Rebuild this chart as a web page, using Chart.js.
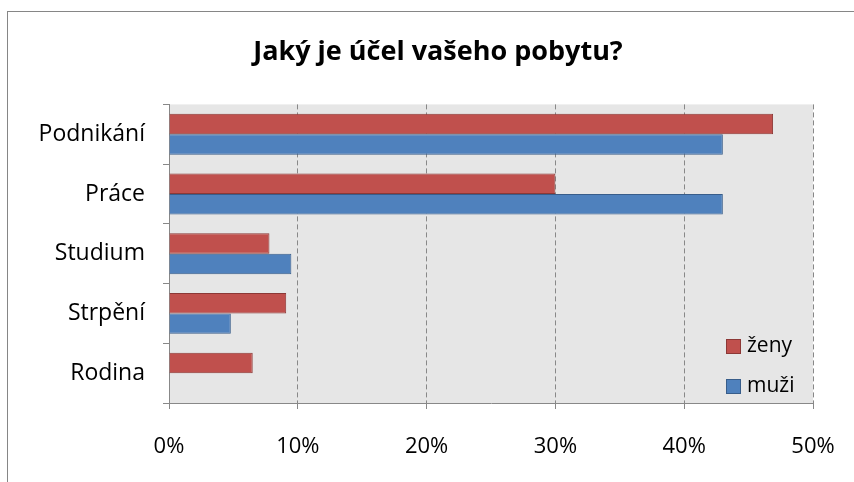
<!DOCTYPE html>
<html>
<head>
<meta charset="utf-8">
<script src="https://cdn.jsdelivr.net/npm/chart.js@4/dist/chart.umd.min.js"></script>
<style>
  html, body { margin: 0; padding: 0; background: #fff; overflow: hidden; }
  #frame { position: absolute; left: 7px; top: 11px; width: 860px; height: 480px; border: 1px solid #868686; }
  #wrap { position: absolute; left: 0; top: 0; width: 860px; height: 470px; }
</style>
</head>
<body>
<div id="frame"><div id="wrap"><canvas id="chart"></canvas></div></div>
<script>
const categories = ['Podnikání', 'Práce', 'Studium', 'Strpění', 'Rodina'];
const zeny = [46.9, 30.0, 7.8, 9.1, 6.5];
const muzi = [43.0, 43.0, 9.5, 4.8, 0];
const xTicks = [0, 10, 20, 30, 40, 50];

const FONT = '"Open Sans", Lato, sans-serif';

// šedé pozadí plochy grafu
const plotBg = {
    id: 'plotBg',
    beforeDraw(chart) {
        const a = chart.chartArea;
        const c = chart.ctx;
        c.save();
        c.fillStyle = '#e6e6e6';
        c.fillRect(a.left, a.top, a.right - a.left, a.bottom - a.top);
        c.restore();
    }
};

// legenda uvnitř plochy, vpravo dole
const insideLegend = {
    id: 'insideLegend',
    afterDraw(chart) {
        const c = chart.ctx;
        const items = chart.data.datasets;
        const x = 718, y0 = 334, step = 40;
        c.save();
        c.font = '21px ' + FONT;
        c.textBaseline = 'middle';
        items.forEach((ds, i) => {
            const y = y0 + i * step;
            c.fillStyle = ds.backgroundColor;
            c.fillRect(x, y - 7, 15, 15);
            c.strokeStyle = ds.borderColor;
            c.lineWidth = 1;
            c.strokeRect(x + 0.5, y - 6.5, 14, 14);
            c.fillStyle = '#000';
            c.fillText(ds.label, x + 21, y);
        });
        c.restore();
    }
};

new Chart(document.getElementById('chart'), {
    type: 'bar',
    data: {
        labels: categories,
        datasets: [
            { label: 'ženy', data: zeny, backgroundColor: '#c0504d', borderColor: '#8c3836', borderWidth: 1 },
            { label: 'muži', data: muzi, backgroundColor: '#4f81bd', borderColor: '#385d8a', borderWidth: 1 }
        ]
    },
    options: {
        indexAxis: 'y',
        responsive: true,
        maintainAspectRatio: false,
        animation: false,
        categoryPercentage: 0.685,
        barPercentage: 1,
        layout: { padding: 0 },
        plugins: {
            legend: { display: false },
            tooltip: { enabled: false },
            title: {
                display: true,
                text: 'Jaký je účel vašeho pobytu?',
                color: '#000',
                font: { family: FONT, size: 27, weight: 'bold' },
                padding: { top: 24, bottom: 36 }
            }
        },
        scales: {
            x: {
                min: 0,
                max: 50,
                afterBuildTicks: s => { s.ticks = xTicks.map(v => ({ value: v })); },
                afterFit: s => { s.height = 79; },
                ticks: {
                    color: '#000',
                    padding: 25,
                    font: { family: FONT, size: 22 },
                    callback: v => v + '%'
                },
                grid: {
                    color: '#888',
                    tickLength: 6,
                    tickColor: '#888',
                    tickBorderDash: []
                },
                border: { display: true, color: '#888', width: 1, dash: [5, 3] }
            },
            y: {
                afterFit: s => { s.width = 161; },
                ticks: {
                    color: '#000',
                    padding: 18,
                    font: { family: FONT, size: 23 }
                },
                grid: {
                    offset: true,
                    drawOnChartArea: false,
                    tickLength: 6,
                    color: '#888'
                },
                border: { display: true, color: '#888', width: 1 }
            },
            // prázdná pravá osa jen kvůli okraji vpravo
            yRight: {
                type: 'linear',
                position: 'right',
                afterFit: s => { s.width = 55; },
                ticks: { display: false },
                grid: { display: false },
                border: { display: false }
            }
        }
    },
    plugins: [plotBg, insideLegend]
});
</script>
</body>
</html>
